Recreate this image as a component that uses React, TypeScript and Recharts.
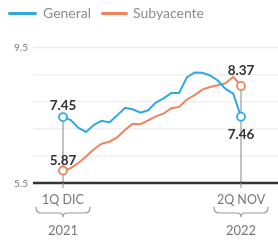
import { LineChart, Line, XAxis, YAxis, CartesianGrid, ReferenceLine, Legend } from 'recharts';

// quincenas: 1Q DIC 2021 -> 2Q NOV 2022
const periods = [
  '1Q DIC', '2Q DIC', '1Q ENE', '2Q ENE', '1Q FEB', '2Q FEB', '1Q MAR', '2Q MAR',
  '1Q ABR', '2Q ABR', '1Q MAY', '2Q MAY', '1Q JUN', '2Q JUN', '1Q JUL', '2Q JUL',
  '1Q AGO', '2Q AGO', '1Q SEP', '2Q SEP', '1Q OCT', '2Q OCT', '1Q NOV', '2Q NOV',
];
const years = [
  '2021', '2021', '2022', '2022', '2022', '2022', '2022', '2022',
  '2022', '2022', '2022', '2022', '2022', '2022', '2022', '2022',
  '2022', '2022', '2022', '2022', '2022', '2022', '2022', '2022',
];
const general = [
  7.45, 7.36, 7.13, 7.01, 7.22, 7.34, 7.29, 7.5,
  7.72, 7.68, 7.58, 7.65, 7.88, 8.0, 8.16, 8.16,
  8.62, 8.77, 8.76, 8.68, 8.53, 8.28, 8.14, 7.46,
];
const subyacente = [
  5.87, 5.94, 6.09, 6.29, 6.5, 6.66, 6.72, 6.85,
  7.07, 7.25, 7.24, 7.35, 7.47, 7.55, 7.71, 7.75,
  7.97, 8.1, 8.26, 8.34, 8.39, 8.45, 8.64, 8.37,
];
const yTicks = [5.5, 6.3, 7.1, 7.9, 8.7, 9.5];
const shownYTicks = [5.5, 9.5];

const BLUE = '#2fa9e0';
const ORANGE = '#f2825c';
const last = periods.length - 1;

const data = periods.map((p, i) => ({
  period: p,
  year: years[i],
  general: general[i],
  subyacente: subyacente[i],
}));

function makeDot(color: string) {
  return (props: any) => {
    const { cx, cy, index } = props;
    if (index !== 0 && index !== last) return <g key={`d${index}`} />;
    return <circle key={`d${index}`} cx={cx} cy={cy} r={4} fill="#fff" stroke={color} strokeWidth={1.8} />;
  };
}

function makeLabel(firstDy: number, lastDy: number) {
  return (props: any) => {
    const { x, y, index, value } = props;
    if (index !== 0 && index !== last) return <g key={`l${index}`} />;
    const dy = index === 0 ? firstDy : lastDy;
    return (
      <text key={`l${index}`} x={x} y={y + dy} textAnchor="middle" dominantBaseline="central"
        fontSize={13.5} fontWeight={700} fill="#333">
        {Number(value).toFixed(2)}
      </text>
    );
  };
}

const BraceTick = (props: any) => {
  const { x, y, payload } = props;
  const i = periods.indexOf(payload.value);
  const w = 27;
  const by = y + 30;
  return (
    <g>
      <line x1={x} y1={y} x2={x} y2={y + 5} stroke="#999" strokeWidth={1.2} />
      <text x={x} y={y + 16} textAnchor="middle" dominantBaseline="central" fontSize={12.5} fill="#777">
        {payload.value}
      </text>
      <path
        d={`M${x - w},${by - 6} Q${x - w},${by} ${x - w + 5},${by} L${x - 4},${by} Q${x},${by} ${x},${by + 4} Q${x},${by} ${x + 4},${by} L${x + w - 5},${by} Q${x + w},${by} ${x + w},${by - 6}`}
        fill="none" stroke="#999" strokeWidth={1.2}
      />
      <text x={x} y={y + 47} textAnchor="middle" dominantBaseline="central" fontSize={13} fill="#777">
        {years[i]}
      </text>
    </g>
  );
};

const LegendContent = () => (
  <div style={{ display: 'flex', alignItems: 'center', fontSize: 14, color: '#8c8c8c', lineHeight: '16px' }}>
    <span style={{ display: 'inline-block', width: 29, height: 3, background: BLUE, borderRadius: 2, marginRight: 6 }} />
    <span style={{ marginRight: 10 }}>General</span>
    <span style={{ display: 'inline-block', width: 27, height: 3, background: ORANGE, borderRadius: 2, marginRight: 5 }} />
    <span>Subyacente</span>
  </div>
);

export default function App() {
  return (
    <div style={{ position: 'fixed', left: 0, top: 0, fontFamily: 'Lato, sans-serif' }}>
      <LineChart width={278} height={243} data={data} margin={{ top: 31.7, right: 0, left: 0, bottom: 0 }}
        style={{ fontFamily: 'Lato, sans-serif' }}>
        <CartesianGrid vertical={false} stroke="#e8e8e8" />
        <Legend verticalAlign="top" content={<LegendContent />}
          wrapperStyle={{ top: 5, left: 8, width: 'auto' }} />
        <XAxis dataKey="period" ticks={[periods[0], periods[last]]} interval={0}
          tick={<BraceTick />} tickLine={false} tickSize={0} tickMargin={0}
          axisLine={{ stroke: '#333', strokeWidth: 2.5 }}
          padding={{ left: 30, right: 37 }} height={60} />
        <YAxis domain={[5.5, 9.5]} ticks={yTicks} width={33} axisLine={false} tickLine={false}
          tickSize={0} tickMargin={5} tick={{ fontSize: 10, fill: '#777' }}
          tickFormatter={(v: number) => (shownYTicks.includes(v) ? String(v) : '')} />
        <ReferenceLine segment={[{ x: periods[0], y: general[0] }, { x: periods[0], y: 5.5 }]}
          stroke="#999" strokeWidth={1.2} />
        <ReferenceLine segment={[{ x: periods[last], y: subyacente[last] }, { x: periods[last], y: 5.5 }]}
          stroke="#999" strokeWidth={1.2} />
        <Line dataKey="subyacente" stroke={ORANGE} strokeWidth={2} dot={makeDot(ORANGE)}
          activeDot={false} label={makeLabel(-10.5, -16)} isAnimationActive={false} />
        <Line dataKey="general" stroke={BLUE} strokeWidth={2} dot={makeDot(BLUE)}
          activeDot={false} label={makeLabel(-12, 17)} isAnimationActive={false} />
      </LineChart>
    </div>
  );
}
